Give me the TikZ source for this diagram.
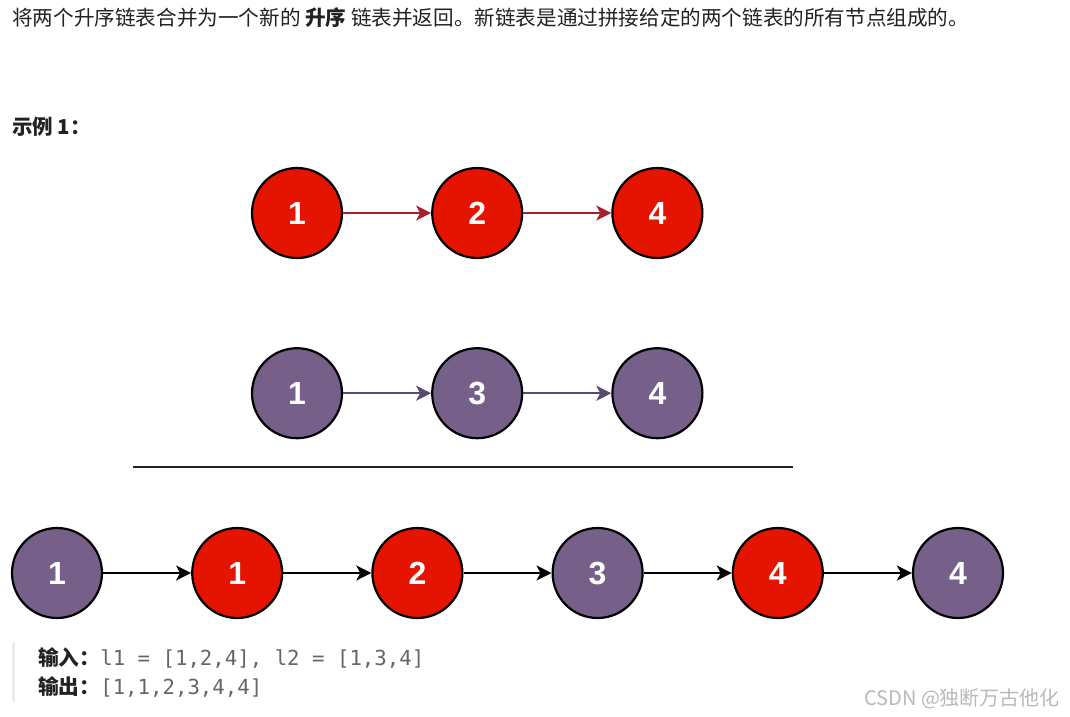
\documentclass[tikz,border=0pt]{standalone}
\usepackage{fontspec}
\setmainfont{Liberation Sans}
\newfontfamily\cjk{Noto Sans CJK SC}
\newfontfamily\mono{DejaVu Sans Mono}
\usetikzlibrary{positioning, arrows.meta}
\definecolor{nodered}{HTML}{E51400}
\definecolor{nodepurple}{HTML}{76608A}
\definecolor{arrowred}{HTML}{A81E2C}
\definecolor{arrowpurple}{HTML}{5A4A72}
\definecolor{textdark}{HTML}{222222}
\definecolor{codegray}{HTML}{666666}

\begin{document}
\begin{tikzpicture}[
  x=1pt, y=-1pt,
  listnode/.style={
    circle,
    draw=black,
    line width=2.2pt,
    minimum size=90pt,
    inner sep=0pt,
    text=white,
    font=\fontsize{32}{32}\selectfont\bfseries
  },
  rednode/.style={listnode, fill=nodered},
  purplenode/.style={listnode, fill=nodepurple},
  arrow/.style={-{Stealth[length=15pt, width=15pt, inset=4pt]}, line width=2pt},
  redarrow/.style={arrow, draw=arrowred, fill=arrowred},
  purplearrow/.style={arrow, draw=arrowpurple, fill=arrowpurple},
  blackarrow/.style={arrow, draw=black, fill=black},
  plaintext/.style={anchor=base west, inner sep=0pt, text=textdark},
  node distance=88pt
]
\useasboundingbox[fill=white] (0,0) rectangle (1070,716);

\node[plaintext, font=\cjk\fontsize{20.6}{24}\selectfont] (intro) at (12,25)
  {将两个升序链表合并为一个新的 \textbf{升序} 链表并返回。新链表是通过拼接给定的两个链表的所有节点组成的。};
\node[plaintext, font=\cjk\fontsize{20.5}{24}\selectfont\bfseries] (example) at (12,134) {示例 1：};

% first list
\node[rednode] (a1) at (297,213) {1};
\node[rednode, right=of a1] (a2) {2};
\node[rednode, right=of a2] (a3) {4};

% second list
\node[purplenode, below=of a1] (b1) {1};
\node[purplenode, right=of b1] (b2) {3};
\node[purplenode, right=of b2] (b3) {4};

\draw[redarrow] (a1) -- (a2);
\draw[redarrow] (a2) -- (a3);
\draw[purplearrow] (b1) -- (b2);
\draw[purplearrow] (b2) -- (b3);

\coordinate (ruleL) at (133,467);
\coordinate (ruleR) at (793,467);
\draw[line width=2.5pt, textdark] (ruleL) -- (ruleR);

% merged list
\node[purplenode] (c1) at (57,573) {1};
\node[rednode, right=of c1] (c2) {1};
\node[rednode, right=of c2] (c3) {2};
\node[purplenode, right=of c3] (c4) {3};
\node[rednode, right=of c4] (c5) {4};
\node[purplenode, right=of c5] (c6) {4};

\draw[blackarrow] (c1) -- (c2);
\draw[blackarrow] (c2) -- (c3);
\draw[blackarrow] (c3) -- (c4);
\draw[blackarrow] (c4) -- (c5);
\draw[blackarrow] (c5) -- (c6);

\coordinate (barT) at (13.5,643);
\coordinate (barB) at (13.5,702);
\draw[line width=3pt, gray!15] (barT) -- (barB);

\node[plaintext, font=\fontsize{20.7}{24}\selectfont] (input) at (38,665)
  {{\cjk\bfseries 输入：}{\mono\color{codegray}l1 = [1,2,4], l2 = [1,3,4]}};
\node[plaintext, font=\fontsize{20.7}{24}\selectfont] (output) at (38,694)
  {{\cjk\bfseries 输出：}{\mono\color{codegray}[1,1,2,3,4,4]}};

\node[plaintext, text=gray!55, font=\cjk\fontsize{20}{22}\selectfont] (mark) at (864,705) {CSDN @独断万古他化};
\end{tikzpicture}
\end{document}
